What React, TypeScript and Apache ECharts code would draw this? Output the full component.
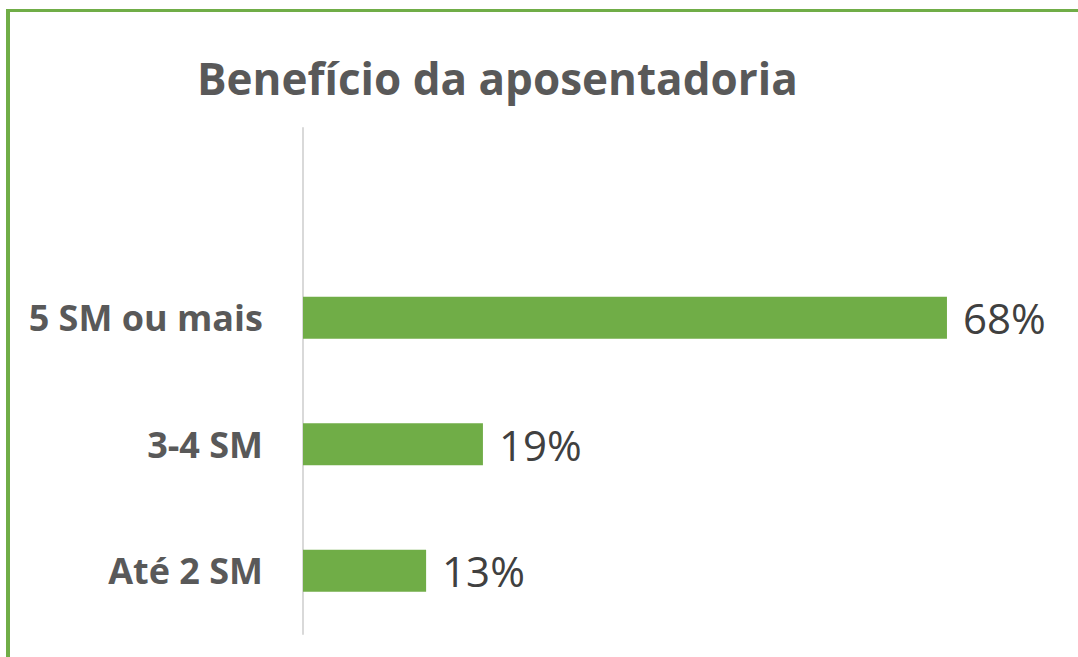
import React, { useEffect, useRef } from "react";
import * as echarts from "echarts";

const categories = ["Até 2 SM", "3-4 SM", "5 SM ou mais", ""];
const values = [13, 19, 68, null];
const titleText = "Benefício da aposentadoria";

export default function App() {
  const ref = useRef<HTMLDivElement>(null);
  useEffect(() => {
    const chart = echarts.init(ref.current!, undefined, { renderer: "svg" });
    chart.setOption({
      animation: false,
      backgroundColor: "#ffffff",
      title: {
        text: titleText,
        left: 192,
        top: 51,
        textStyle: { fontFamily: "Open Sans", fontWeight: "bold", fontSize: 44, color: "#595959" },
      },
      graphic: [
        { type: "line", shape: { x1: 6, y1: 10.5, x2: 1078, y2: 10.5 }, style: { stroke: "#70AD47", lineWidth: 3 } },
        { type: "line", shape: { x1: 8, y1: 9, x2: 8, y2: 657 }, style: { stroke: "#70AD47", lineWidth: 4 } },
      ],
      grid: { left: 303, top: 128, height: 506, width: 757.6, containLabel: false },
      xAxis: { type: "value", min: 0, max: 80, show: false },
      yAxis: {
        type: "category",
        data: categories,
        axisLine: { show: true, lineStyle: { color: "#D9D9D9", width: 2 } },
        axisTick: { show: false },
        axisLabel: { fontFamily: "Open Sans", fontWeight: "bold", fontSize: 36, color: "#595959", margin: 40 },
      },
      series: [
        {
          type: "bar",
          data: values,
          barWidth: 42,
          itemStyle: { color: "#70AD47" },
          label: {
            show: true,
            position: "right",
            distance: 16,
            formatter: "{c}%",
            fontFamily: "Open Sans",
            fontSize: 42,
            color: "#404040",
          },
        },
      ],
    });
    return () => chart.dispose();
  }, []);
  return <div ref={ref} style={{ position: "absolute", left: 0, top: 0, width: 1078, height: 657 }} />;
}
